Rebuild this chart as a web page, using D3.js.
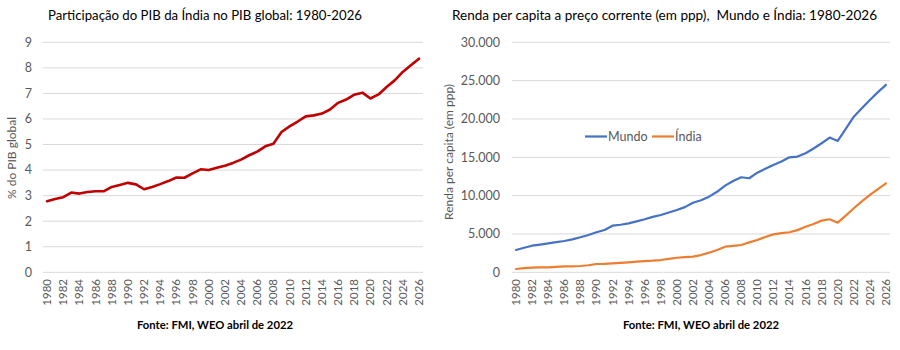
<!DOCTYPE html>
<html>
<head>
<meta charset="utf-8">
<script src="https://cdn.jsdelivr.net/npm/d3@7"></script>
<style>
  body { margin: 0; background: #fff; }
  svg { font-family: Lato, "Open Sans", sans-serif; }
  .title { white-space: pre; }
</style>
</head>
<body>
<div id="chart"></div>
<script>
"use strict";

// anos 1980-2026
var years = [1980,1981,1982,1983,1984,1985,1986,1987,1988,1989,1990,1991,1992,1993,1994,1995,1996,1997,1998,1999,
             2000,2001,2002,2003,2004,2005,2006,2007,2008,2009,2010,2011,2012,2013,2014,2015,2016,2017,2018,2019,
             2020,2021,2022,2023,2024,2025,2026];

// % da India no PIB global
var shareIndia = [2.78,2.87,2.94,3.12,3.08,3.14,3.17,3.17,3.34,3.42,3.50,3.44,3.25,3.34,3.45,3.57,3.71,3.70,3.87,4.03,
                  4.00,4.09,4.17,4.28,4.41,4.58,4.72,4.93,5.03,5.49,5.71,5.90,6.10,6.14,6.21,6.37,6.63,6.76,6.95,7.03,
                  6.80,6.96,7.25,7.51,7.84,8.10,8.36];

// renda per capita ppp
var rendaMundo = [2910,3200,3470,3620,3780,3930,4080,4300,4570,4870,5220,5520,6080,6200,6390,6650,6920,7230,7480,7800,
                  8130,8500,9080,9400,9870,10500,11300,11900,12400,12270,13000,13500,14000,14450,15000,15100,15530,16150,16830,17570,
                  17130,18700,20300,21400,22480,23500,24440];
var rendaIndia = [430,540,600,640,650,720,760,780,820,920,1080,1110,1170,1240,1300,1380,1470,1520,1600,1750,
                  1900,1980,2040,2250,2560,2900,3340,3450,3560,3900,4220,4600,4950,5100,5220,5500,5950,6300,6740,6920,
                  6470,7400,8350,9250,10090,10850,11610];

var shareTicks = [0,1,2,3,4,5,6,7,8,9];
var rendaTicks = [0,5000,10000,15000,20000,25000,30000];
var xTickYears = years.filter(function (y) { return y % 2 === 0; });

var svg = d3.select("#chart").append("svg")
  .attr("width", 900).attr("height", 350);

var fmt = function (v) { return d3.format(",")(v).replace(/,/g, "."); };

function drawPanel(cfg) {
  var x = d3.scalePoint().domain(years).range([cfg.left, cfg.right]).padding(0.5);
  var y = d3.scaleLinear().domain(cfg.domain).range([272.3, 42.3]);

  var g = svg.append("g");

  // grid
  g.selectAll("line.grid").data(cfg.ticks).enter().append("line")
    .attr("x1", cfg.left).attr("x2", cfg.right)
    .attr("y1", function (d) { return y(d); }).attr("y2", function (d) { return y(d); })
    .attr("stroke", "#d9d9d9").attr("stroke-width", 1);

  // y labels
  g.selectAll("text.ytick").data(cfg.ticks).enter().append("text")
    .attr("x", cfg.yLabelX).attr("y", function (d) { return y(d); })
    .attr("dy", "0.35em").attr("text-anchor", "end")
    .attr("font-size", 12.5).attr("fill", "#595959")
    .text(cfg.tickFormat);

  // x labels
  g.selectAll("text.xtick").data(xTickYears).enter().append("text")
    .attr("transform", function (d) { return "translate(" + x(d) + ",279) rotate(-90)"; })
    .attr("dy", "0.35em").attr("text-anchor", "end")
    .attr("font-size", 11.5).attr("fill", "#595959")
    .text(function (d) { return d; });

  // lines
  cfg.series.forEach(function (s) {
    var line = d3.line()
      .x(function (d, i) { return x(years[i]); })
      .y(function (d) { return y(d); });
    g.append("path").datum(s.values)
      .attr("d", line).attr("fill", "none")
      .attr("stroke", s.color).attr("stroke-width", s.width)
      .attr("stroke-linejoin", "round").attr("stroke-linecap", "round");
  });

  // title
  g.append("text").attr("class", "title").attr("x", cfg.titleX).attr("y", 20)
    .attr("font-size", 13).attr("fill", "#000")
    .attr("textLength", cfg.titleLen).attr("lengthAdjust", "spacingAndGlyphs")
    .text(cfg.title);

  // y title
  g.append("text")
    .attr("transform", "translate(" + cfg.yTitleX + "," + cfg.yTitleY + ") rotate(-90)")
    .attr("text-anchor", "middle").attr("dy", "0.35em")
    .attr("font-size", 12).attr("fill", "#595959")
    .text(cfg.yTitle);

  // fonte
  g.append("text").attr("x", cfg.sourceX).attr("y", 329)
    .attr("text-anchor", "middle").attr("font-size", 12).attr("font-weight", "bold")
    .attr("fill", "#000")
    .attr("textLength", 156).attr("lengthAdjust", "spacingAndGlyphs")
    .text("Fonte: FMI, WEO abril de 2022");

  return g;
}

drawPanel({
  left: 43, right: 423, domain: [0, 9], ticks: shareTicks,
  tickFormat: function (d) { return d; }, yLabelX: 32,
  series: [{ values: shareIndia, color: "#c00000", width: 2.6 }],
  title: "Participação do PIB da Índia no PIB global: 1980-2026", titleX: 48, titleLen: 314,
  yTitle: "% do PIB global", yTitleX: 12, yTitleY: 158,
  sourceX: 215
});

var right = drawPanel({
  left: 512, right: 890, domain: [0, 30000], ticks: rendaTicks,
  tickFormat: fmt, yLabelX: 500,
  series: [
    { values: rendaMundo, color: "#4472c4", width: 2.2 },
    { values: rendaIndia, color: "#ed7d31", width: 2.2 }
  ],
  title: "Renda per capita a preço corrente (em ppp),  Mundo e Índia: 1980-2026", titleX: 452, titleLen: 425,
  yTitle: "Renda per capita (em ppp)", yTitleX: 449, yTitleY: 152,
  sourceX: 701
});

// legenda
var legend = [
  { name: "Mundo", color: "#4472c4", x: 585 },
  { name: "Índia", color: "#ed7d31", x: 652 }
];
legend.forEach(function (l) {
  right.append("line").attr("x1", l.x).attr("x2", l.x + 22)
    .attr("y1", 136.5).attr("y2", 136.5)
    .attr("stroke", l.color).attr("stroke-width", 2.2);
  right.append("text").attr("x", l.x + 23).attr("y", 136.5).attr("dy", "0.35em")
    .attr("font-size", 12.5).attr("fill", "#595959").text(l.name);
});
</script>
</body>
</html>
